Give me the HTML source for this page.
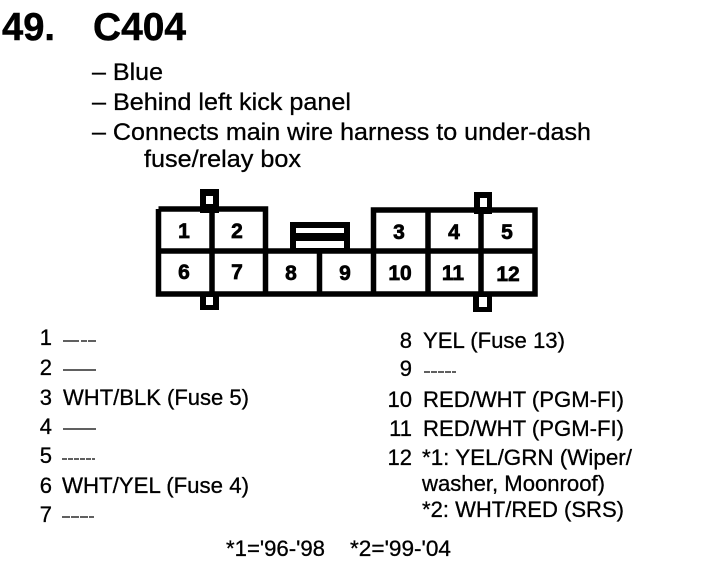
<!DOCTYPE html>
<html><head><meta charset="utf-8">
<style>
html,body{margin:0;padding:0;background:#fff}
svg{display:block}
text{font-family:"Liberation Sans",sans-serif;fill:#000;stroke:#000;stroke-width:.3}
.t{font-size:24.5px}
.l{font-size:22px}
.n{font-size:21px;font-weight:bold;stroke-width:.7}
.h{font-size:39px;font-weight:bold;stroke-width:.5}
</style></head><body>
<svg width="704" height="572" viewBox="0 0 704 572" xmlns="http://www.w3.org/2000/svg">
<rect width="704" height="572" fill="#fff"/>
<text class="h" x="2" y="40" textLength="53" lengthAdjust="spacingAndGlyphs">49.</text>
<text class="h" x="93" y="40" textLength="93" lengthAdjust="spacingAndGlyphs">C404</text>
<text class="t" x="92" y="80" textLength="71" lengthAdjust="spacingAndGlyphs">– Blue</text>
<text class="t" x="92" y="110" textLength="259" lengthAdjust="spacingAndGlyphs">– Behind left kick panel</text>
<text class="t" x="92" y="140" textLength="499" lengthAdjust="spacingAndGlyphs">– Connects main wire harness to under-dash</text>
<text class="t" x="144" y="167" textLength="157" lengthAdjust="spacingAndGlyphs">fuse/relay box</text>

<g fill="#000">
<rect x="200" y="189" width="19" height="24"/>
<rect x="200" y="292" width="19" height="18"/>
<rect x="474" y="192" width="18" height="22"/>
<rect x="473" y="292" width="19" height="20"/>
<rect x="290" y="222" width="60" height="30"/>
</g>
<g fill="#fff">
<rect x="206" y="196" width="7" height="8"/>
<rect x="206" y="297" width="7" height="8"/>
<rect x="480" y="198" width="7" height="9"/>
<rect x="479" y="297" width="8" height="10"/>
<rect x="296" y="228" width="48" height="5"/>
<rect x="296" y="241" width="48" height="7"/>
</g>
<g fill="none" stroke="#000" stroke-width="5.500">
<path d="M158.500 209H265.500V251M158.500 209V294H535V210H373.500V251"/>
<path d="M158.500 251H535"/>
<path d="M212 209V294M265.500 250V294M319.500 250V294M373.500 250V294M428 210V294M481 210V294"/>
</g>
<text class="n" x="184" y="238" text-anchor="middle">1</text>
<text class="n" x="237" y="238" text-anchor="middle">2</text>
<text class="n" x="399" y="239" text-anchor="middle">3</text>
<text class="n" x="454" y="239" text-anchor="middle">4</text>
<text class="n" x="507" y="239" text-anchor="middle">5</text>
<text class="n" x="184" y="279" text-anchor="middle">6</text>
<text class="n" x="237" y="279" text-anchor="middle">7</text>
<text class="n" x="291" y="280" text-anchor="middle">8</text>
<text class="n" x="345" y="280" text-anchor="middle">9</text>
<text class="n" x="400" y="280" text-anchor="middle">10</text>
<text class="n" x="453" y="280" text-anchor="middle">11</text>
<text class="n" x="508" y="281" text-anchor="middle">12</text>

<text class="l" x="52" y="345" text-anchor="end">1</text>
<text class="l" x="52" y="375" text-anchor="end">2</text>
<text class="l" x="52" y="405" text-anchor="end">3</text>
<text class="l" x="52" y="434" text-anchor="end">4</text>
<text class="l" x="52" y="463" text-anchor="end">5</text>
<text class="l" x="52" y="493" text-anchor="end">6</text>
<text class="l" x="52" y="522" text-anchor="end">7</text>
<g stroke="#000" stroke-width="1.200">
<path d="M63 341H96" stroke-dasharray="16 2 6 1"/><path d="M63 370H96"/><path d="M63 429H96"/><path d="M62 459H95" stroke-dasharray="5 1"/><path d="M62 517H94" stroke-dasharray="8 1"/>
<path d="M424 372H456" stroke-dasharray="6 1"/>
</g>
<text class="l" x="63" y="405" textLength="186" lengthAdjust="spacingAndGlyphs">WHT/BLK (Fuse 5)</text>
<text class="l" x="62" y="493" textLength="187" lengthAdjust="spacingAndGlyphs">WHT/YEL (Fuse 4)</text>

<text class="l" x="412" y="348" text-anchor="end">8</text>
<text class="l" x="412" y="376" text-anchor="end">9</text>
<text class="l" x="412" y="407" text-anchor="end">10</text>
<text class="l" x="412" y="436" text-anchor="end">11</text>
<text class="l" x="412" y="465" text-anchor="end">12</text>
<text class="l" x="423" y="348" textLength="142" lengthAdjust="spacingAndGlyphs">YEL (Fuse 13)</text>
<text class="l" x="423" y="407" textLength="201" lengthAdjust="spacingAndGlyphs">RED/WHT (PGM-FI)</text>
<text class="l" x="423" y="436" textLength="201" lengthAdjust="spacingAndGlyphs">RED/WHT (PGM-FI)</text>
<text class="l" x="422" y="465" textLength="210" lengthAdjust="spacingAndGlyphs">*1: YEL/GRN (Wiper/</text>
<text class="l" x="422" y="491" textLength="183" lengthAdjust="spacingAndGlyphs">washer, Moonroof)</text>
<text class="l" x="422" y="517" textLength="202" lengthAdjust="spacingAndGlyphs">*2: WHT/RED (SRS)</text>
<text class="l" x="226" y="556" textLength="99" lengthAdjust="spacingAndGlyphs">*1='96-'98</text>
<text class="l" x="350" y="556" textLength="101" lengthAdjust="spacingAndGlyphs">*2='99-'04</text>
</svg>
</body></html>
